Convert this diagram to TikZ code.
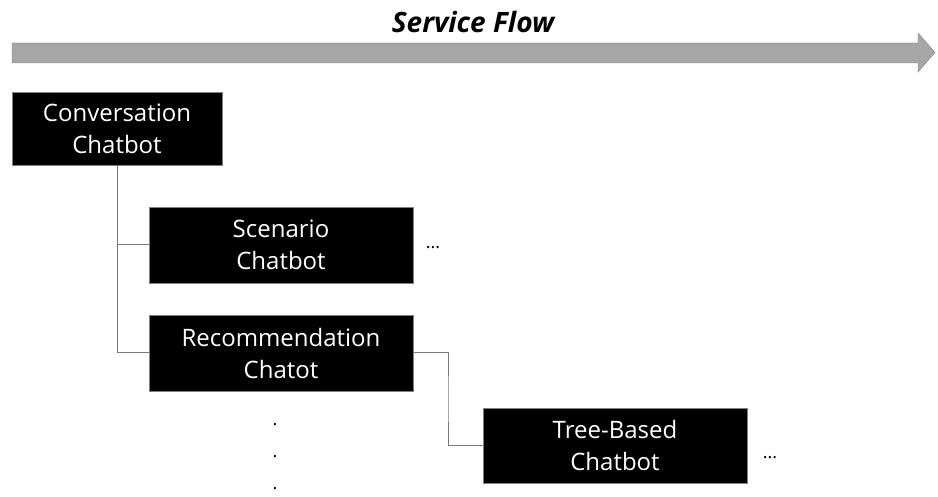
\documentclass[tikz,border=0pt]{standalone}
\usepackage{fontspec}
\setmainfont{Open Sans}
\usetikzlibrary{calc}
\definecolor{flowgray}{RGB}{166,166,166}
\definecolor{flowedge}{RGB}{128,128,128}
\definecolor{linegray}{RGB}{120,120,120}
\begin{document}
\begin{tikzpicture}[x=1pt,y=-1pt,
 bot/.style={fill=black,draw=flowedge,text=white,align=center,minimum width=264,minimum height=76,inner sep=0pt,font=\fontsize{24}{32}\selectfont},
 link/.style={draw=linegray,line width=1pt},
 etc/.style={align=center,font=\fontsize{18}{32}\selectfont}]
\useasboundingbox (0,0) rectangle (938,497);
\draw[fill=flowgray,draw=flowedge] (12,43) -- (918,43) -- (918,33) -- (935,52.5) -- (918,72) -- (918,63) -- (12,63) -- cycle;
\node[anchor=base,font=\bfseries\itshape\fontsize{28}{30}\selectfont] (title) at (473,33) {Service Flow};
\node[bot,minimum width=210,minimum height=73] (conv) at (117,128.5) {Conversation\\Chatbot};
\node[bot] (scen) at (281,245) {Scenario\\Chatbot};
\node[bot] (recom) at (281,353) {Recommendation\\Chatot};
\node[bot,minimum height=75] (tree) at (615,445.5) {Tree-Based\\Chatbot};
\node[etc,anchor=base] (sdots) at (433,249) {...};
\node[etc,anchor=base] (tdots) at (770,458) {...};
\node[etc,anchor=base] (vdots) at (275,489) {.\\.\\.};
\draw[link] (conv.south) |- (recom.west);
\draw[link] (conv.south |- scen.west) -- (scen.west);
\draw[link] (recom.east) -| ($(recom.east)!.5!(tree.west)$) |- (tree.west);
\end{tikzpicture}
\end{document}
